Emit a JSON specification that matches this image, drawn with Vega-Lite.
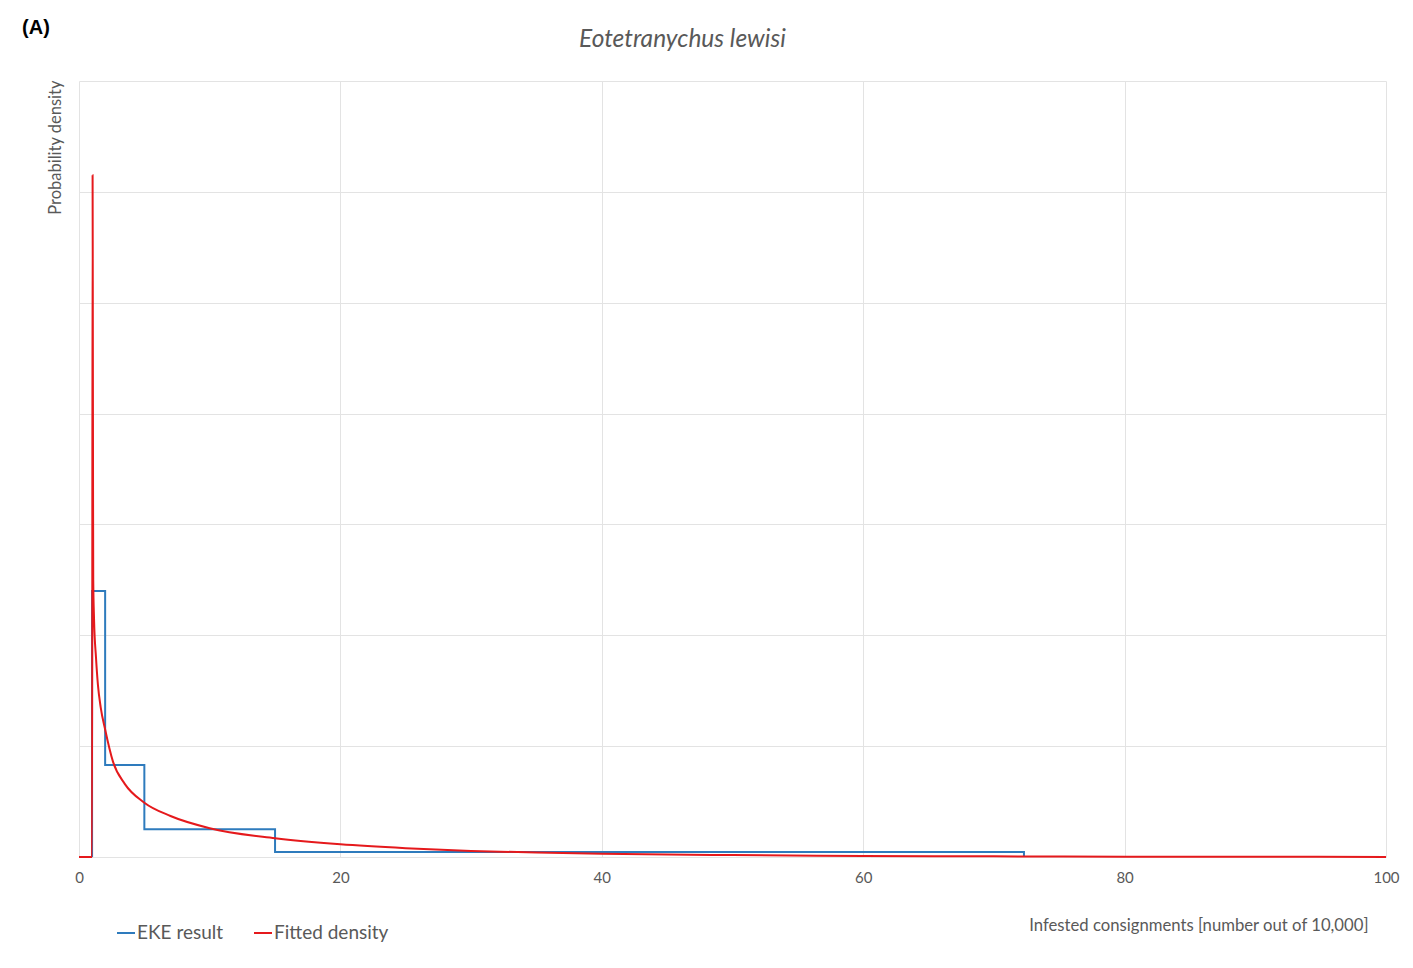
{
  "$schema": "https://vega.github.io/schema/vega-lite/v6.json",
  "autosize": "none",
  "width": 1307,
  "height": 776,
  "padding": {"left": 79, "top": 81, "right": 27, "bottom": 111},
  "background": "white",
  "config": {
    "font": "Lato",
    "view": {"stroke": null},
    "axis": {"gridColor": "#e3e3e3", "gridWidth": 1, "domain": false, "ticks": false, "labelColor": "#595959", "titleColor": "#595959", "titleFontWeight": "normal"}
  },
  "title": {
    "text": "Eotetranychus lewisi",
    "fontStyle": "italic",
    "fontWeight": "normal",
    "fontSize": 24.5,
    "color": "#595959",
    "anchor": "middle",
    "frame": "group",
    "dx": -50,
    "dy": 64,
    "offset": 29
  },
  "datasets": {
    "eke": [
      {"series": "EKE result", "i": 0, "x": 1.0, "y": 0},
      {"series": "EKE result", "i": 1, "x": 1.0, "y": 2.4},
      {"series": "EKE result", "i": 2, "x": 2.0, "y": 2.4},
      {"series": "EKE result", "i": 3, "x": 2.0, "y": 0.83},
      {"series": "EKE result", "i": 4, "x": 5.0, "y": 0.83},
      {"series": "EKE result", "i": 5, "x": 5.0, "y": 0.25},
      {"series": "EKE result", "i": 6, "x": 15.0, "y": 0.25},
      {"series": "EKE result", "i": 7, "x": 15.0, "y": 0.045},
      {"series": "EKE result", "i": 8, "x": 72.3, "y": 0.045},
      {"series": "EKE result", "i": 9, "x": 72.3, "y": 0}
    ],
    "fit": [
      {"series": "Fitted density", "x": 0, "y": 0},
      {"series": "Fitted density", "x": 0.99, "y": 0},
      {"series": "Fitted density", "x": 1.0, "y": 0},
      {"series": "Fitted density", "x": 1.04, "y": 6.15},
      {"series": "Fitted density", "x": 1.06, "y": 4.6},
      {"series": "Fitted density", "x": 1.075, "y": 3.3},
      {"series": "Fitted density", "x": 1.09, "y": 2.5},
      {"series": "Fitted density", "x": 1.15, "y": 2.15},
      {"series": "Fitted density", "x": 1.3, "y": 1.8},
      {"series": "Fitted density", "x": 1.45, "y": 1.55},
      {"series": "Fitted density", "x": 1.66, "y": 1.35},
      {"series": "Fitted density", "x": 2.0, "y": 1.15},
      {"series": "Fitted density", "x": 2.6, "y": 0.86},
      {"series": "Fitted density", "x": 3.5, "y": 0.66},
      {"series": "Fitted density", "x": 5, "y": 0.49},
      {"series": "Fitted density", "x": 7, "y": 0.37},
      {"series": "Fitted density", "x": 10, "y": 0.26},
      {"series": "Fitted density", "x": 15, "y": 0.17},
      {"series": "Fitted density", "x": 20, "y": 0.115},
      {"series": "Fitted density", "x": 25, "y": 0.08},
      {"series": "Fitted density", "x": 30, "y": 0.055},
      {"series": "Fitted density", "x": 35, "y": 0.04},
      {"series": "Fitted density", "x": 40, "y": 0.03},
      {"series": "Fitted density", "x": 50, "y": 0.017},
      {"series": "Fitted density", "x": 60, "y": 0.01},
      {"series": "Fitted density", "x": 70, "y": 0.006},
      {"series": "Fitted density", "x": 80, "y": 0.003},
      {"series": "Fitted density", "x": 90, "y": 0.0015},
      {"series": "Fitted density", "x": 100, "y": 0.001}
    ],
    "panel": [
      {"label": "(A)"}
    ]
  },
  "layer": [
    {
      "data": {"name": "eke"},
      "mark": {"type": "line", "strokeWidth": 2, "clip": false},
      "encoding": {
        "x": {
          "field": "x", "type": "quantitative",
          "scale": {"domain": [0, 100], "nice": false},
          "axis": {
            "values": [0, 20, 40, 60, 80, 100],
            "labelFontSize": 15,
            "labelPadding": 13,
            "labelFlush": false,
            "title": "Infested consignments [number out of 10,000]",
            "titleFontSize": 16.7,
            "titleAnchor": "end",
            "titleAlign": "right",
            "titleX": 1289,
            "titleY": 68,
            "titleBaseline": "middle"
          }
        },
        "y": {
          "field": "y", "type": "quantitative",
          "scale": {"domain": [0, 7], "nice": false},
          "axis": {
            "values": [0, 1, 2, 3, 4, 5, 6, 7],
            "labels": false,
            "title": "Probability density",
            "titleFontSize": 16.5,
            "titleAngle": -90,
            "titleAlign": "right",
            "titleBaseline": "middle",
            "titleX": -24,
            "titleY": -1
          }
        },
        "order": {"field": "i", "type": "quantitative"},
        "color": {
          "field": "series", "type": "nominal",
          "scale": {"domain": ["EKE result", "Fitted density"], "range": ["#2e7bbd", "#e5191c"]},
          "legend": {
            "title": null,
            "orient": "none",
            "direction": "horizontal",
            "legendX": 37,
            "legendY": 842,
            "symbolType": "stroke",
            "symbolSize": 324,
            "symbolStrokeWidth": 2,
            "labelFontSize": 19,
            "labelColor": "#595959",
            "labelOffset": 1,
            "columnPadding": 26
          }
        }
      }
    },
    {
      "data": {"name": "fit"},
      "mark": {"type": "line", "strokeWidth": 2, "clip": false, "interpolate": "monotone"},
      "encoding": {
        "x": {"field": "x", "type": "quantitative"},
        "y": {"field": "y", "type": "quantitative"},
        "color": {"field": "series", "type": "nominal"}
      }
    },
    {
      "data": {"name": "panel"},
      "mark": {"type": "text", "fontSize": 20, "fontWeight": "bold", "fill": "#000000", "align": "center", "baseline": "middle", "font": "Liberation Sans", "clip": false},
      "encoding": {
        "text": {"field": "label", "type": "nominal"},
        "x": {"datum": -3.29},
        "y": {"datum": 7.48}
      }
    }
  ]
}
